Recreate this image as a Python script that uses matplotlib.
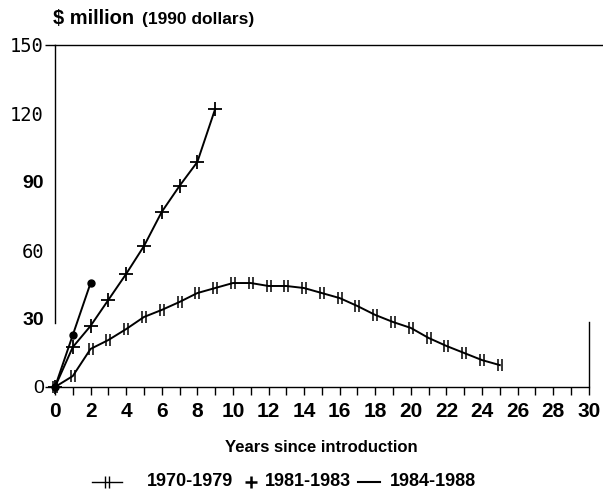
import numpy as np
import matplotlib.pyplot as plt
from matplotlib.path import Path
from matplotlib.lines import Line2D

# years since introduction, annual points
years_7079 = np.arange(0, 26)
sales_7079 = [0, 4.8, 16.7, 20.6, 25.4, 30.7, 33.8, 37.3, 41.2, 43.4, 45.6, 45.6,
              44.3, 44.3, 43.4, 41.2, 39.0, 35.5, 31.6, 28.5, 25.9, 21.5, 18.0,
              14.9, 11.8, 9.6]

years_8183 = np.arange(0, 10)
sales_8183 = [0, 17.5, 26.8, 38.2, 49.6, 61.8, 76.8, 88.2, 98.7, 121.9]

years_8488 = np.arange(0, 3)
sales_8488 = [0, 22.8, 45.6]

labels = ["1970-1979", "1981-1983", "1984-1988"]

# double vertical bar marker
dbar = Path([(-0.3, -1), (-0.3, 1), (0.3, -1), (0.3, 1)],
            [Path.MOVETO, Path.LINETO, Path.MOVETO, Path.LINETO])

plt.rcParams["font.family"] = ["Liberation Sans", "DejaVu Sans"]

W, H = 603, 495
fig = plt.figure(figsize=(W / 100, H / 100), dpi=100)
ax = fig.add_axes([0.0912, 0.2182, 0.9088, 0.6909])

ax.plot(years_7079, sales_7079, color="black", lw=1.4, marker=dbar,
        markersize=8, markeredgewidth=1.1, clip_on=False)
ax.plot(years_8183, sales_8183, color="black", lw=1.4, marker="+",
        markersize=10, markeredgewidth=1.3, clip_on=False)
ax.plot(years_8488, sales_8488, color="black", lw=1.4, marker="o",
        markersize=5, clip_on=False)

ax.set_xlim(0, 30.8)
ax.set_ylim(0, 150)

ax.spines["right"].set_visible(False)
ax.spines["bottom"].set_bounds(0, 30)
ax.spines["left"].set_bounds(28, 150)
for s in ax.spines.values():
    s.set_linewidth(1.0)
ax.axvline(30, ymin=0, ymax=0.19, color="black", lw=1.0)

ax.set_xticks(np.arange(0, 31, 2))
ax.set_xticks(np.arange(1, 31, 2), minor=True)
ax.set_xticklabels([str(k) for k in range(0, 31, 2)], fontsize=15, fontweight="bold")
ax.tick_params(axis="x", which="both", direction="out", length=6, width=1.0, pad=5)

ax.set_yticks([0, 30, 60, 90, 120, 150])
ax.set_yticklabels(["0", "30", "60", "90", "120", "150"])
ax.tick_params(axis="y", direction="out", length=7, width=1.0, pad=1)
for i, t in enumerate(ax.yaxis.get_major_ticks()):
    t.tick1line.set_visible(i in (0, 5))
for i, lab in enumerate(ax.get_yticklabels()):
    if i in (2, 4, 5):
        lab.set_family("DejaVu Sans Mono")
        lab.set_fontsize(13.5)
    elif i == 0:
        lab.set_fontsize(14)
    else:
        lab.set_fontsize(14)
        lab.set_fontweight("bold")

fig.text(0.088, 0.952, "$ million", fontsize=14.5, fontweight="bold", va="baseline")
fig.text(0.235, 0.952, "(1990 dollars)", fontsize=12.5, fontweight="bold", va="baseline")

fig.text(0.533, 1 - 447 / 495, "Years since introduction", fontsize=12,
         fontweight="bold", ha="center", va="center")

# legend row laid out by hand (pixel positions in the figure)
ly = 1 - 482 / H
fig.add_artist(Line2D([92 / W, 122 / W], [ly, ly], color="black", lw=1.0))
fig.add_artist(Line2D([107 / W], [ly], color="black", lw=0, marker=dbar,
                      markersize=8, markeredgewidth=1.0))
fig.add_artist(Line2D([251 / W], [ly], color="black", lw=0, marker="+",
                      markersize=9, markeredgewidth=1.8))
fig.add_artist(Line2D([358 / W, 380 / W], [ly, ly], color="black", lw=1.5))
for x0, lab in zip([147, 265, 390], labels):
    fig.text(x0 / W, ly, lab, fontsize=13, fontweight="bold", va="center")

fig.savefig("out.png", dpi=100)
